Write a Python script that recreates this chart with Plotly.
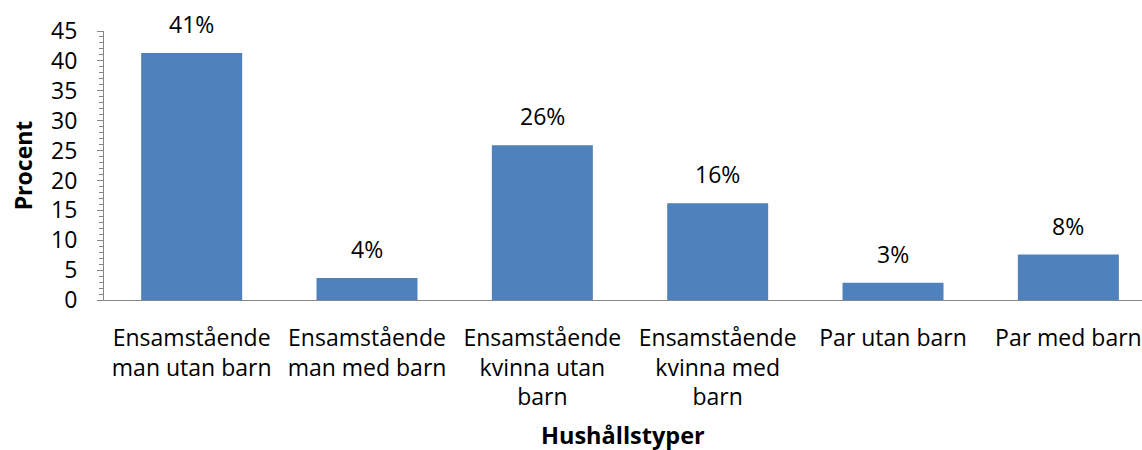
import plotly.graph_objects as go

categories = [
    "Ensamstående<br>man utan barn",
    "Ensamstående<br>man med barn",
    "Ensamstående<br>kvinna utan<br>barn",
    "Ensamstående<br>kvinna med<br>barn",
    "Par utan barn",
    "Par med barn",
]
values = [41.3, 3.7, 25.9, 16.2, 2.9, 7.6]
y_ticks = [0, 5, 10, 15, 20, 25, 30, 35, 40, 45]

FONT = "Open Sans, Calibri, sans-serif"
AXIS_GREY = "#868686"

x_idx = list(range(len(categories)))

fig = go.Figure()
fig.add_trace(
    go.Bar(
        x = x_idx,
        y = values,
        marker_color = "#4F81BD",
        marker_line_width = 0,
        width = 0.576,
        showlegend = False,
        hoverinfo = "y",
    )
)

# percentage labels above the bars
for i, v in enumerate(values):
    fig.add_annotation(
        x = i, y = v, xref = "x", yref = "y",
        text = "{:.0f}%".format(v),
        showarrow = False,
        yanchor = "middle",
        yshift = 29,
        font = dict(family = FONT, size = 23, color = "black"),
    )

fig.add_annotation(
    x = 0.5, y = 0, xref = "paper", yref = "paper",
    text = "<b>Hushållstyper</b>",
    showarrow = False,
    yanchor = "middle",
    yshift = -135,
    font = dict(family = FONT, size = 23.5, color = "black"),
)

fig.update_xaxes(
    range = [-0.5, 5.42],
    tickmode = "array",
    tickvals = x_idx,
    ticktext = categories,
    ticks = "",
    showline = True,
    linecolor = AXIS_GREY,
    linewidth = 1,
    showgrid = False,
    zeroline = False,
    automargin = False,
    ticklabelstandoff = 17,
    tickfont = dict(family = FONT, size = 23, color = "black"),
)

fig.update_yaxes(
    range = [0, 45],
    tickmode = "array",
    tickvals = y_ticks,
    ticks = "outside",
    ticklen = 6,
    tickcolor = AXIS_GREY,
    minor = dict(ticks = "outside", ticklen = 4, dtick = 1, tickcolor = AXIS_GREY, showgrid = False),
    showline = True,
    linecolor = AXIS_GREY,
    linewidth = 1,
    showgrid = False,
    zeroline = False,
    automargin = False,
    ticklabelstandoff = 15,
    tickfont = dict(family = FONT, size = 23, color = "black"),
    title = dict(text = "<b>Procent</b>", standoff = 12, font = dict(family = FONT, size = 23, color = "black")),
)

fig.update_layout(
    width = 1142,
    height = 450,
    margin = dict(l = 104, r = 0, t = 31, b = 150),
    plot_bgcolor = "white",
    paper_bgcolor = "white",
)

# drop the default 8px page margin so the figure sits at the window's corner
fig.write_html(
    "out.html",
    config = {"displayModeBar": False},
    post_script = "document.body.style.margin = '0';",
)
